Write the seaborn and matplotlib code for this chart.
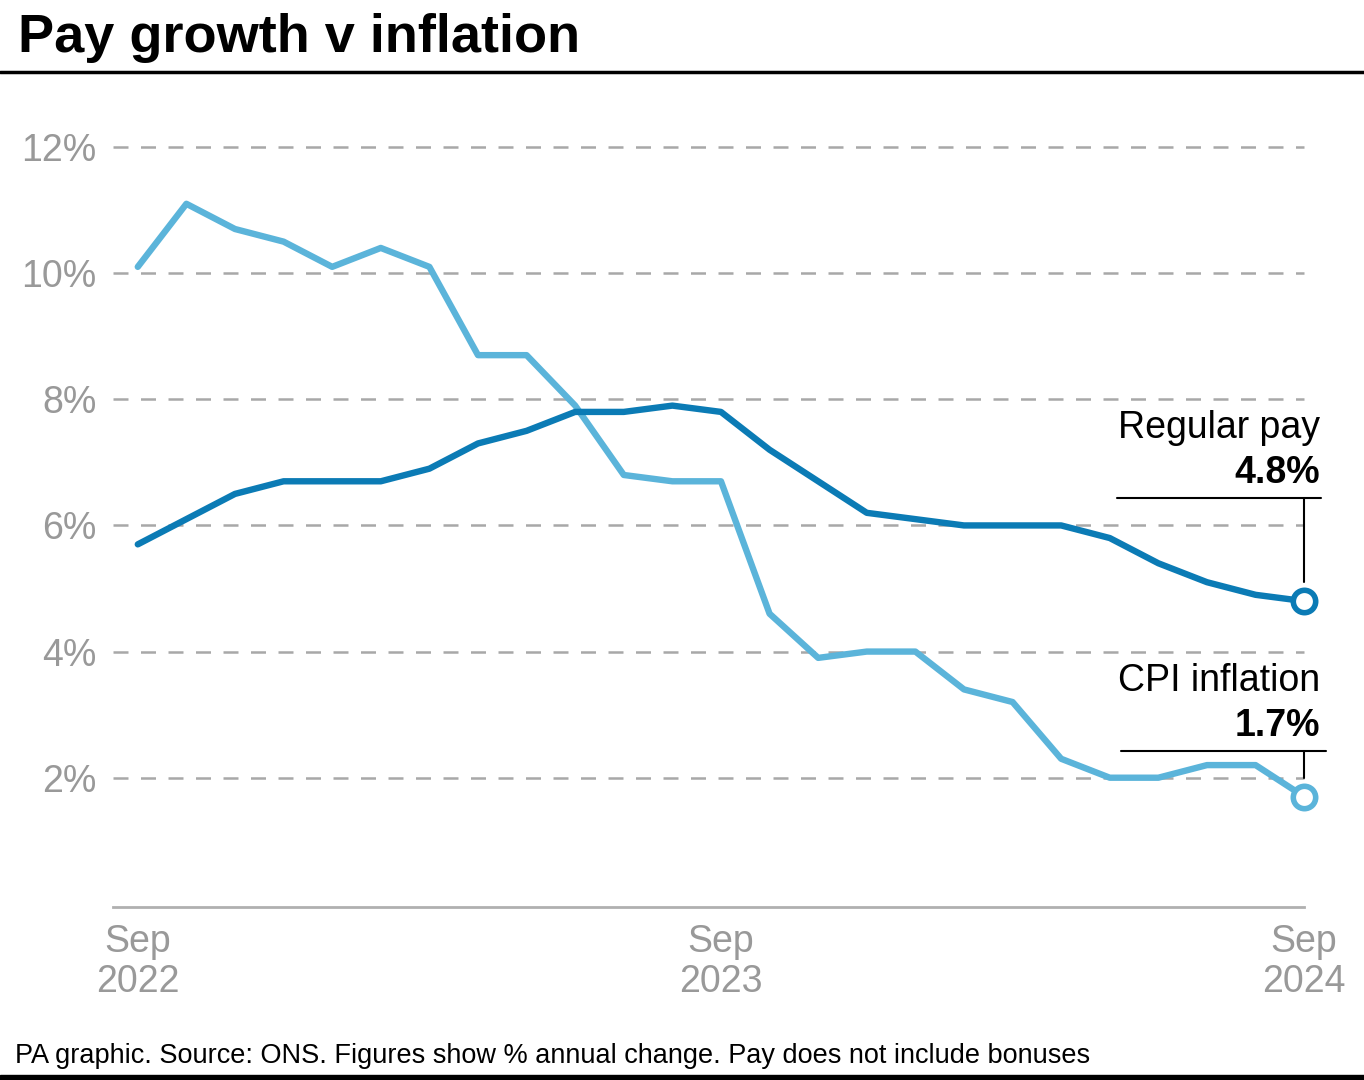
import matplotlib
matplotlib.use("Agg")
import matplotlib.pyplot as plt
import numpy as np
import pandas as pd
import seaborn as sns

# monthly annual % change, Sep 2022 .. Sep 2024
months = pd.date_range("2022-09-01", "2024-09-01", freq="MS")
cpi = [10.1, 11.1, 10.7, 10.5, 10.1, 10.4, 10.1, 8.7, 8.7, 7.9, 6.8, 6.7, 6.7,
       4.6, 3.9, 4.0, 4.0, 3.4, 3.2, 2.3, 2.0, 2.0, 2.2, 2.2, 1.7]
pay = [5.7, 6.1, 6.5, 6.7, 6.7, 6.7, 6.9, 7.3, 7.5, 7.8, 7.8, 7.9, 7.8,
       7.2, 6.7, 6.2, 6.1, 6.0, 6.0, 6.0, 5.8, 5.4, 5.1, 4.9, 4.8]
yticks = [2, 4, 6, 8, 10, 12]
xtick_pos = [0, 12, 24]
xtick_labels = ["Sep\n2022", "Sep\n2023", "Sep\n2024"]

PAY_COL = "#0b7bb5"
CPI_COL = "#5bb4da"
GREY = "#999999"

df = pd.DataFrame({"m": np.arange(len(months)), "cpi": cpi, "pay": pay})

sns.set_style("white")
plt.rcParams["font.family"] = ["Liberation Sans", "DejaVu Sans"]
plt.rcParams["text.color"] = "black"

W, H = 1364, 1080
fig = plt.figure(figsize=(W / 100, H / 100), dpi=100)


def px(x0, y0, w, h):
    return [x0 / W, 1 - (y0 + h) / H, w / W, h / H]


ax = fig.add_axes(px(113, 130, 1197, 777))

ax.hlines(yticks, -0.51, 24.0, color="#a8a8a8", lw=1.8, ls=(0, (6, 5)), zorder=1)

sns.lineplot(data=df, x="m", y="cpi", color=CPI_COL, lw=4.6, ax=ax, zorder=3)
sns.lineplot(data=df, x="m", y="pay", color=PAY_COL, lw=4.6, ax=ax, zorder=4)

last = len(months) - 1
ax.scatter([last], [cpi[-1]], s=260, facecolor="white", edgecolor=CPI_COL,
           linewidth=4, zorder=6, clip_on=False)
ax.scatter([last], [pay[-1]], s=260, facecolor="white", edgecolor=PAY_COL,
           linewidth=4, zorder=6, clip_on=False)

# label leader lines
ax.plot([last - 3.85, last + 0.35], [pay[-1] + 1.63] * 2, color="black", lw=1.5, clip_on=False, zorder=5)
ax.plot([last, last], [pay[-1] + 1.63, pay[-1] + 0.3], color="black", lw=1.5, zorder=5)
ax.plot([last - 3.77, last + 0.45], [cpi[-1] + 0.73] * 2, color="black", lw=1.5, clip_on=False, zorder=5)
ax.plot([last, last], [cpi[-1] + 0.73, cpi[-1] + 0.3], color="black", lw=1.5, zorder=5)

ax.text(last + 0.33, pay[-1] + 2.58, "Regular pay", ha="right", va="baseline", fontsize=27,
        color="black")
ax.text(last + 0.33, pay[-1] + 1.87, f"{pay[-1]}%", ha="right", va="baseline", fontsize=27,
        fontweight="bold", color="black")
ax.text(last + 0.33, cpi[-1] + 1.67, "CPI inflation", ha="right", va="baseline", fontsize=27,
        color="black")
ax.text(last + 0.33, cpi[-1] + 0.96, f"{cpi[-1]}%", ha="right", va="baseline", fontsize=27,
        fontweight="bold", color="black")

ax.set_xlim(-0.51, 24.12)
ax.set_ylim(-0.05, 12.27)
ax.set_yticks(yticks)
ax.set_yticklabels([f"{v}%" for v in yticks])
ax.set_xticks(xtick_pos)
ax.set_xticklabels(xtick_labels, linespacing=1.15)
ax.tick_params(axis="both", length=0, labelsize=27, labelcolor=GREY)
ax.tick_params(axis="y", pad=12)
ax.tick_params(axis="x", pad=12)
ax.set_xlabel("")
ax.set_ylabel("")
for s in ["top", "right", "left"]:
    ax.spines[s].set_visible(False)
ax.spines["bottom"].set_color("#b0b0b0")
ax.spines["bottom"].set_linewidth(2)
ax.spines["bottom"].set_bounds(-0.51, 24.0)

fig.text(18 / W, 1 - 52 / H, "Pay growth v inflation", fontsize=39, fontweight="bold",
         ha="left", va="baseline", color="black")
fig.add_artist(plt.Line2D([0, 1], [1 - 72 / H] * 2, color="black", lw=2.5))
fig.text(15 / W, 1 - 1063 / H,
         "PA graphic. Source: ONS. Figures show % annual change. Pay does not include bonuses",
         fontsize=19.5, ha="left", va="baseline", color="black")
fig.add_artist(plt.Rectangle((0, 0), 1, 5 / H, color="black"))

fig.savefig("out.png", dpi=100)
